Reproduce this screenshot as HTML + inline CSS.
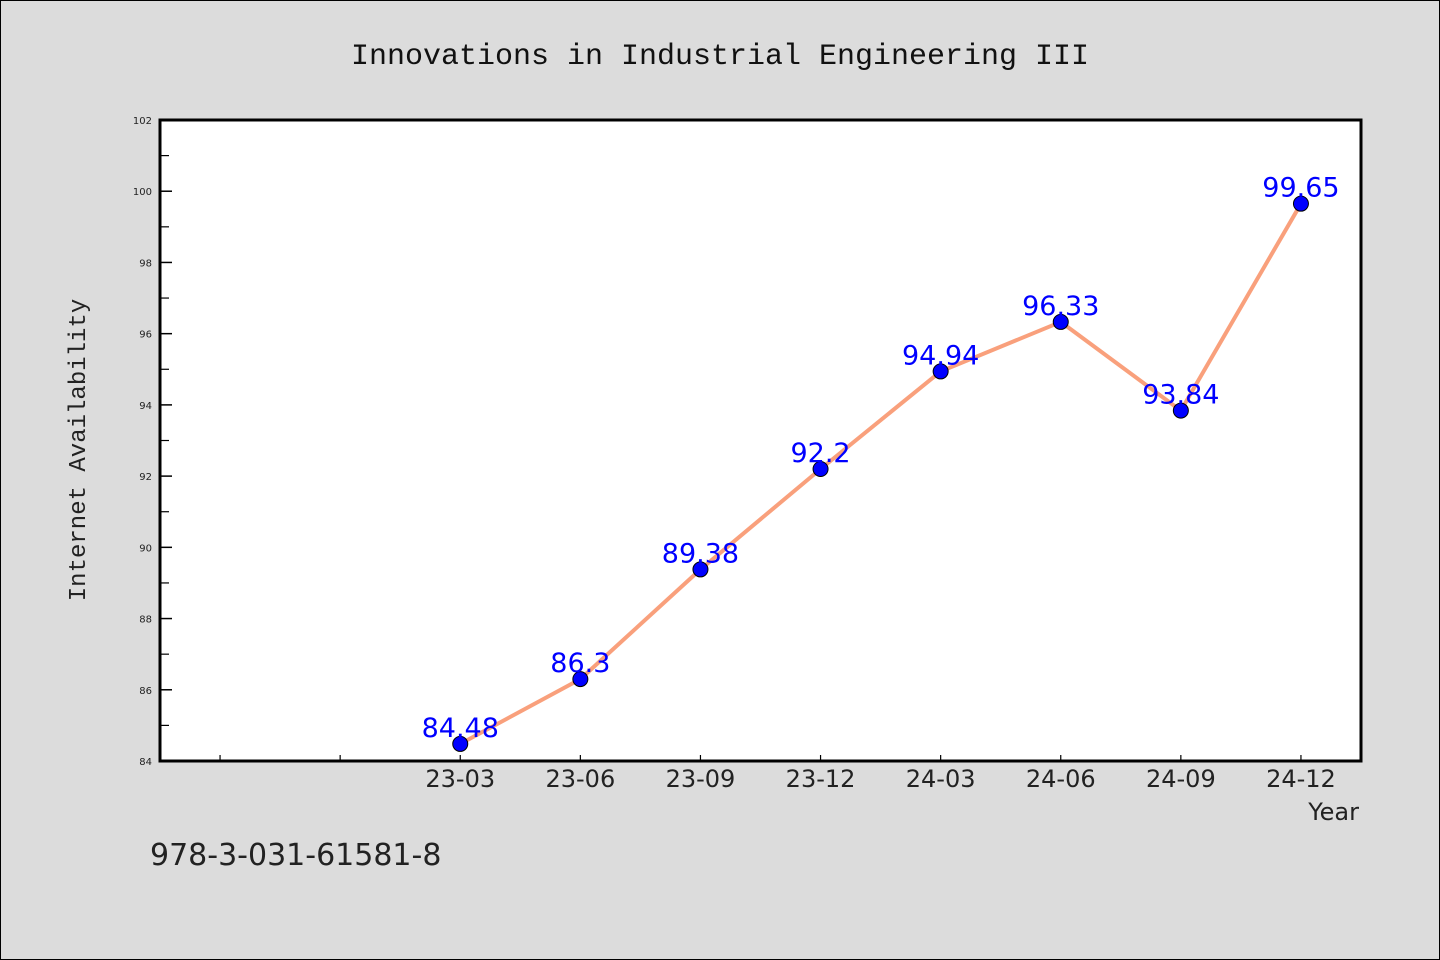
<!DOCTYPE html>
<html><head><meta charset="utf-8"><style>
body{margin:0;background:#dcdcdc;}
svg{display:block;font-family:"Liberation Mono","DejaVu Sans Mono",monospace;}
</style></head><body>
<svg id="chart" width="1440" height="960" xmlns="http://www.w3.org/2000/svg">
<rect x="0.5" y="0.5" width="1439" height="959" fill="#dcdcdc" stroke="#000"/>
<text x="720" y="64" text-anchor="middle" font-size="30" fill="#111">Innovations in Industrial Engineering III</text>
<rect x="160" y="120" width="1201" height="641" fill="#fff"/>
<g id="axes"></g>
<g id="series"></g>
<rect x="160" y="120" width="1201" height="641" fill="none" stroke="#000" stroke-width="3"/>
<text transform="translate(85,450) rotate(-90)" text-anchor="middle" font-size="24" fill="#222">Internet Availability</text>
<text x="1359" y="820" text-anchor="end" font-size="24" fill="#222" font-family="DejaVu Sans, sans-serif">Year</text>
<text x="150" y="865" font-size="30" fill="#222" font-family="DejaVu Sans, sans-serif">978-3-031-61581-8</text>
</svg>
<script>
const categories = ["", "", "23-03","23-06","23-09","23-12","24-03","24-06","24-09","24-12"];
const values = [null, null, 84.48, 86.3, 89.38, 92.2, 94.94, 96.33, 93.84, 99.65];
const valueLabels = ["", "", "84.48","86.3","89.38","92.2","94.94","96.33","93.84","99.65"];
const yTicks = [84,86,88,90,92,94,96,98,100,102];
const yMinorTicks = [85,87,89,91,93,95,97,99,101];

const X0=160, X1=1361, Y0=761, Y1=120, YMIN=84, YMAX=102;
const xs = i => X0 + (X1-X0)/10*(i+0.5);
const ys = v => Y0 - (v-YMIN)/(YMAX-YMIN)*(Y0-Y1);
const NS="http://www.w3.org/2000/svg";
const axes=document.getElementById('axes'), series=document.getElementById('series');
function mk(tag,attrs,parent){const e=document.createElementNS(NS,tag);for(const k in attrs)e.setAttribute(k,attrs[k]);parent.appendChild(e);return e;}

yTicks.forEach(v=>{
  const t=mk('line',{x1:X0,x2:X0+12,y1:ys(v),y2:ys(v),stroke:'#000','stroke-width':1.5},axes);
  
  
  const l=mk('text',{x:X0-8,y:ys(v)+4,'text-anchor':'end','font-size':10,fill:'#222','font-family':'DejaVu Sans, sans-serif'},axes);
  l.textContent=v;
  
  
});
yMinorTicks.forEach(v=>{
  const t=mk('line',{x1:X0,x2:X0+9,y1:ys(v),y2:ys(v),stroke:'#000','stroke-width':1.2},axes);
  
  
});
categories.forEach((c,i)=>{
  const t=mk('line',{x1:xs(i),x2:xs(i),y1:Y0,y2:Y0-6,stroke:'#000','stroke-width':1.2},axes);
  
  
  if(c){
    const l=mk('text',{x:xs(i),y:Y0+26,'text-anchor':'middle','font-size':24,fill:'#222','font-family':'DejaVu Sans, sans-serif'},axes);
    l.textContent=c;
    
    
  }
});
let pts=[];
values.forEach((v,i)=>{if(v!==null)pts.push([xs(i),ys(v)]);});
const line=mk('polyline',{points:pts.map(p=>p.join(',')).join(' '),fill:'none',stroke:'#f9a07c','stroke-width':4,'stroke-linejoin':'round'},series);


values.forEach((v,i)=>{
  if(v===null)return;
  const c=mk('circle',{cx:xs(i),cy:ys(v),r:7.5,fill:'#0000ff',stroke:'#000','stroke-width':1},series);
  
  
  const l=mk('text',{x:xs(i),y:ys(v)-7,'text-anchor':'middle','font-size':27,fill:'#0000ff','font-family':'DejaVu Sans, sans-serif'},series);
  l.textContent=valueLabels[i];
  
  
});
</script>
</body></html>
